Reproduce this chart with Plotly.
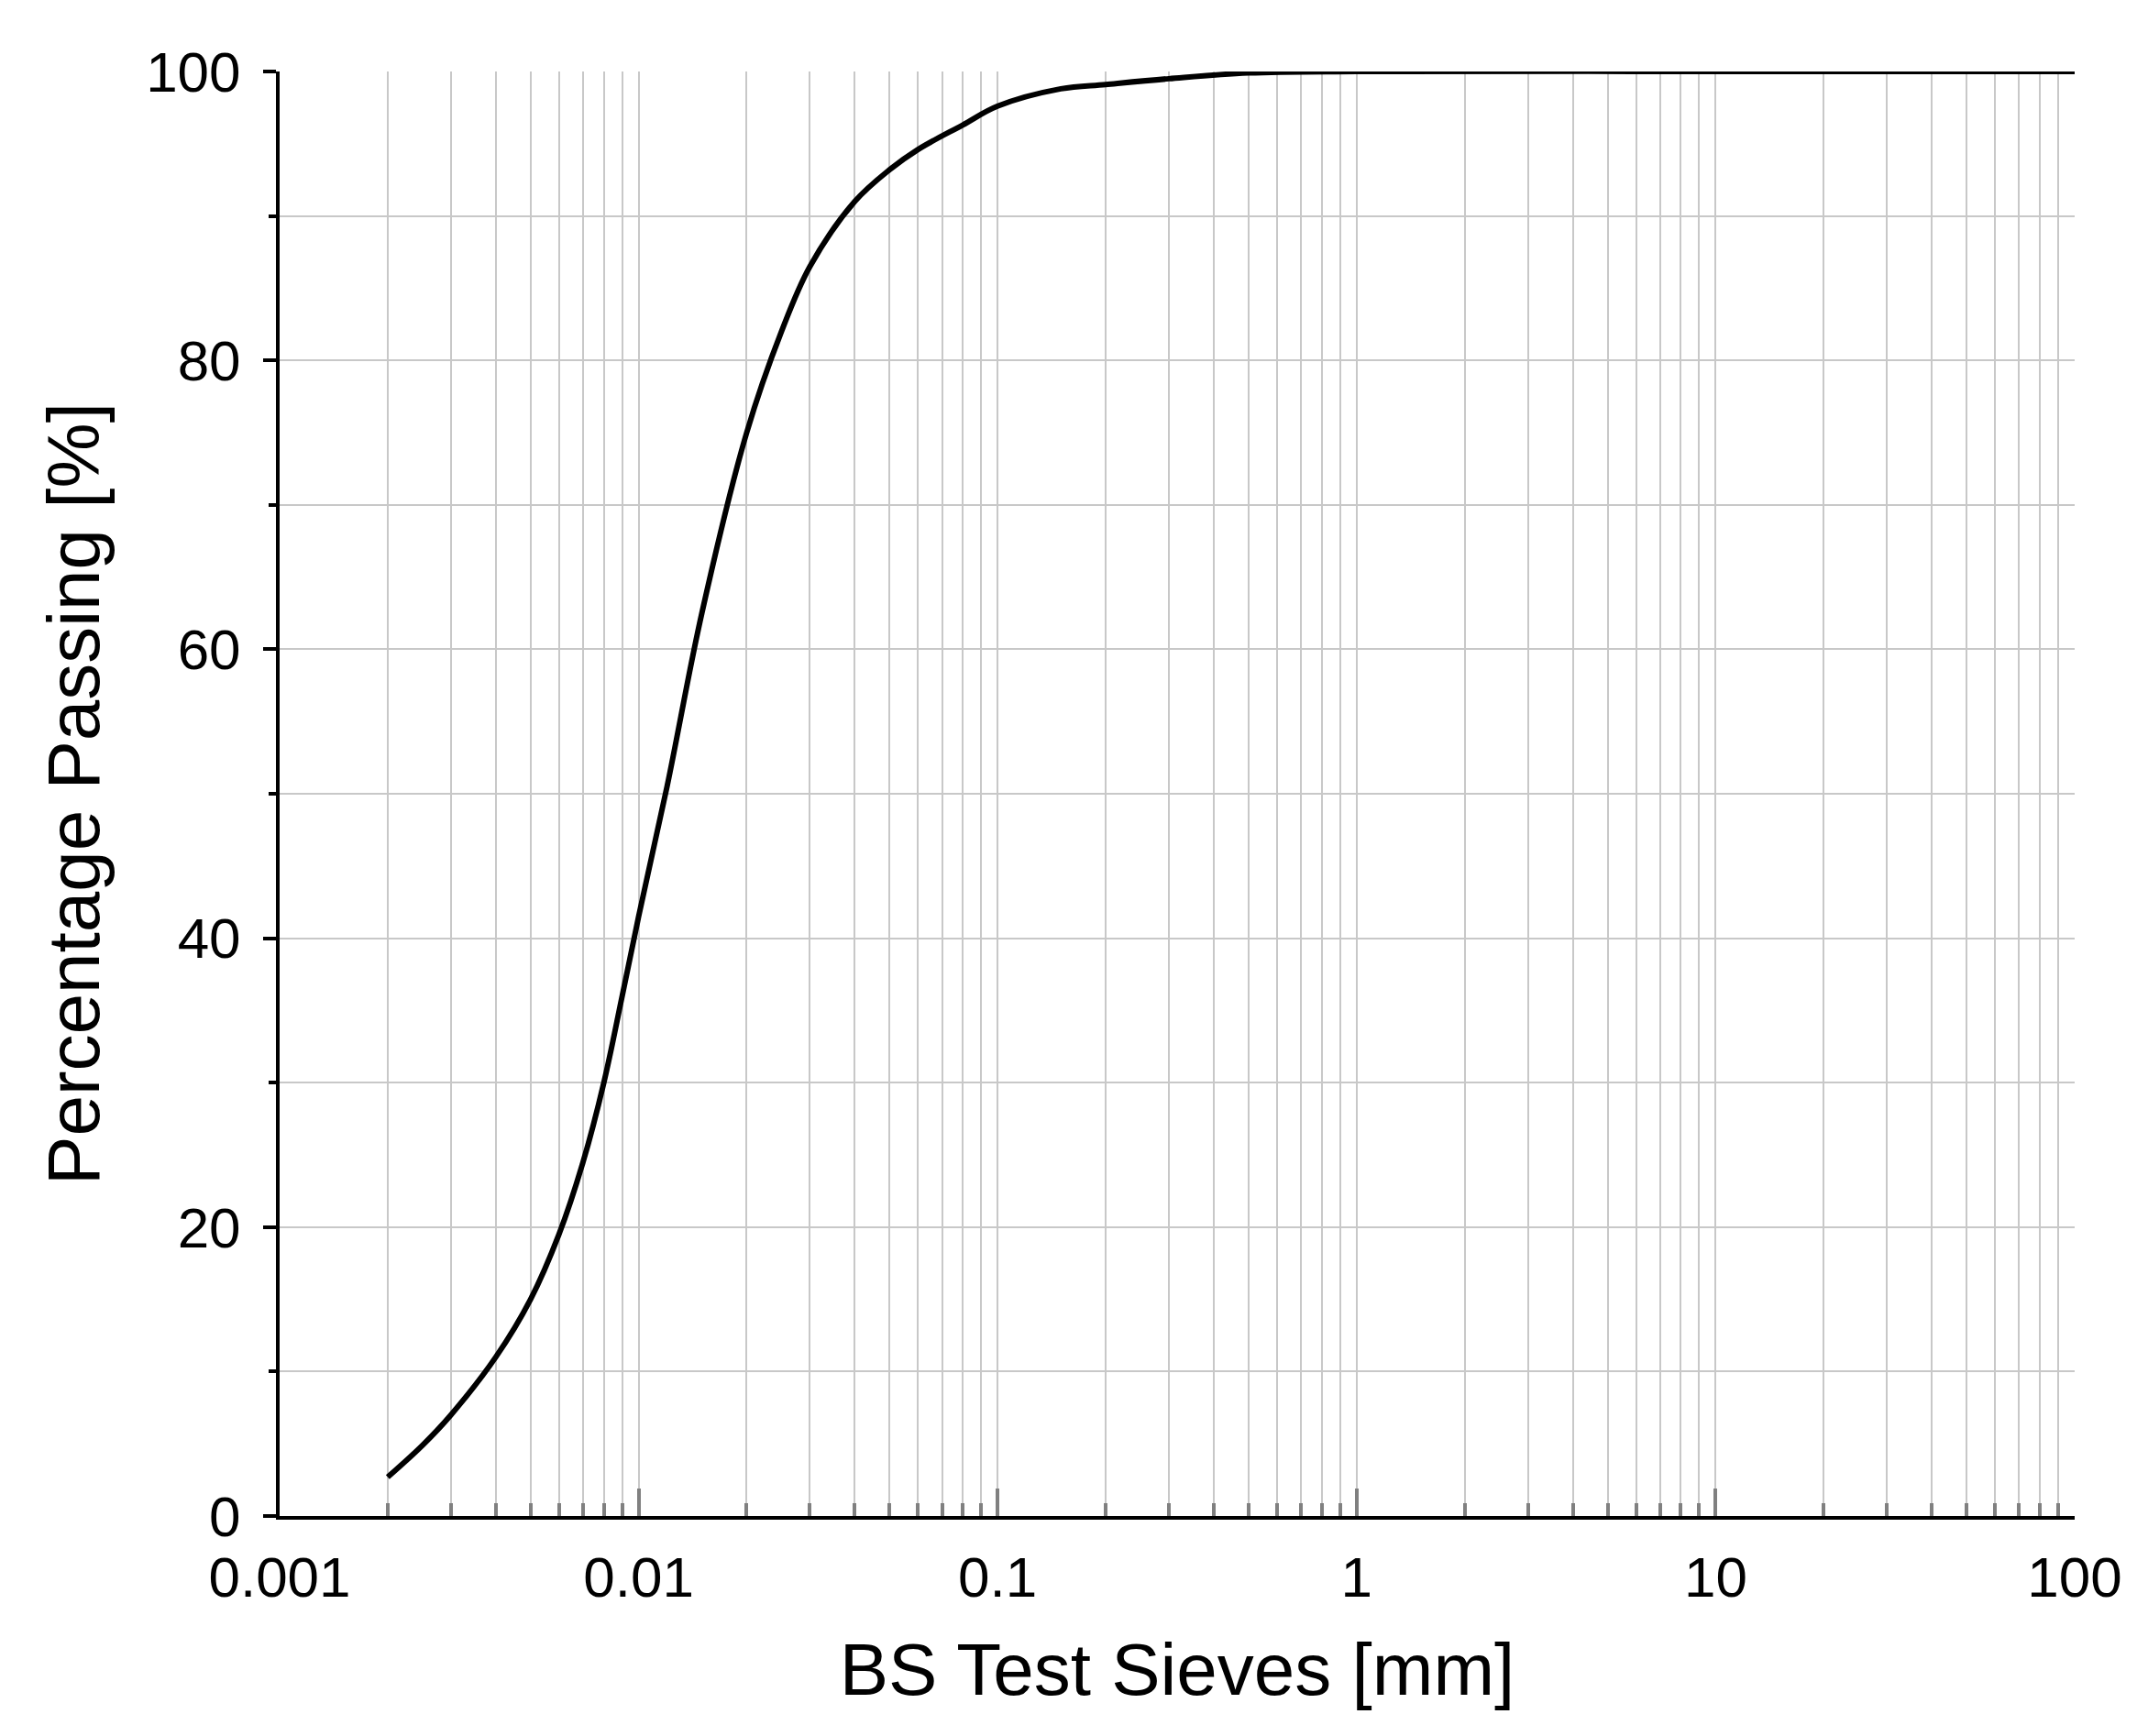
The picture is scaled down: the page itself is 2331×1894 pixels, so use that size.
import plotly.graph_objects as go

# particle size distribution
sieve_mm = [0.002, 0.0025, 0.003, 0.004, 0.005, 0.006, 0.007, 0.008, 0.009, 0.01,
            0.012, 0.015, 0.02, 0.025, 0.03, 0.04, 0.05, 0.06, 0.08, 0.1,
            0.15, 0.2, 0.3, 0.5, 1, 10, 100]
passing_pct = [2.7, 4.9, 7.0, 11.0, 15.0, 19.5, 24.5, 30.0, 36.0, 41.5,
               50.5, 62.5, 75.0, 82.0, 86.5, 91.0, 93.2, 94.6, 96.3, 97.6,
               98.8, 99.1, 99.5, 99.9, 100.0, 100.0, 100.0]

x_ticks = [0.001, 0.01, 0.1, 1, 10, 100]
x_labels = ["0.001", "0.01", "0.1", "1", "10", "100"]

fig = go.Figure(go.Scatter(x=sieve_mm, y=passing_pct, mode="lines",
                           line=dict(color="black", width=6, shape="spline"),
                           showlegend=False))

font = "Liberation Sans, Arial, sans-serif"
fig.update_xaxes(
    type="log", range=[-3, 2], tickvals=x_ticks, ticktext=x_labels,
    showline=True, linecolor="black", linewidth=4,
    showgrid=True, gridcolor="#c8c8c8", gridwidth=2,
    ticks="inside", ticklen=30, tickwidth=4, tickcolor="#808080",
    minor=dict(dtick="D1", showgrid=True, gridcolor="#c8c8c8", gridwidth=2,
               ticks="inside", ticklen=14, tickwidth=4, tickcolor="#808080"),
    tickfont=dict(size=62, color="black", family=font),
    ticklabelstandoff=10,
    title=dict(text="BS Test Sieves [mm]", font=dict(size=80, color="black", family=font), standoff=40),
    zeroline=False,
)
fig.update_yaxes(
    range=[0, 100], dtick=20,
    showline=True, linecolor="black", linewidth=4,
    showgrid=True, gridcolor="#c8c8c8", gridwidth=2,
    ticks="outside", ticklen=14, tickwidth=4, tickcolor="black",
    minor=dict(dtick=10, showgrid=True, gridcolor="#c8c8c8", gridwidth=2,
               ticks="outside", ticklen=8, tickwidth=4, tickcolor="black"),
    tickfont=dict(size=62, color="black", family=font),
    ticklabelstandoff=12,
    title=dict(text="Percentage Passing [%]", font=dict(size=80, color="black", family=font), standoff=25),
    zeroline=False,
)
fig.update_layout(
    width=2331, height=1894,
    plot_bgcolor="white", paper_bgcolor="white",
    margin=dict(l=297, r=76, t=70, b=248),
)
fig.write_html("out.html")
